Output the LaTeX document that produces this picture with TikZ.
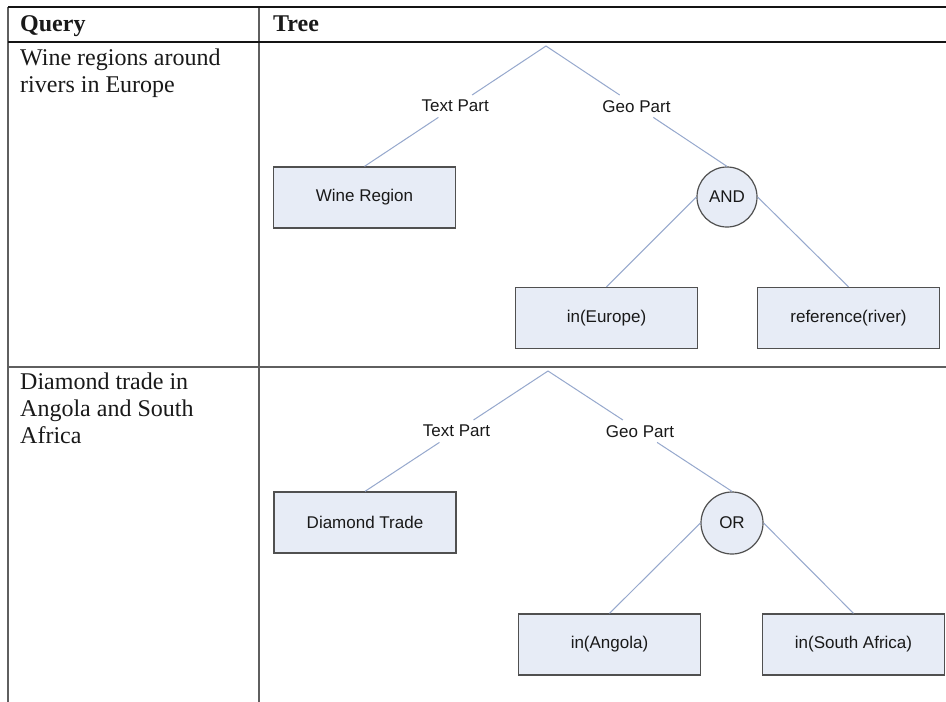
\documentclass[tikz,border=0pt]{standalone}
\usepackage{fontspec}
\setmainfont{Liberation Serif}
\newfontfamily\labelfont{Liberation Sans}
\usetikzlibrary{calc}
\definecolor{connc}{RGB}{150,168,205}
\definecolor{boxfill}{RGB}{231,236,246}
\definecolor{boxdraw}{RGB}{80,80,80}
\definecolor{rulec}{RGB}{20,20,20}
\definecolor{rulegray}{RGB}{95,95,95}
\definecolor{txt}{RGB}{25,25,25}
\begin{document}
\begin{tikzpicture}[x=1pt,y=-1pt,
  leaf/.style={draw=boxdraw, line width=1.3pt, fill=boxfill, minimum width=182pt, minimum height=61pt, inner sep=0pt, font=\labelfont\fontsize{17}{19}\selectfont, text=txt},
  opnode/.style={circle, draw=boxdraw, line width=1.2pt, fill=boxfill, inner sep=0pt, font=\labelfont\fontsize{17}{19}\selectfont, text=txt},
  edgelabel/.style={inner sep=0pt, minimum height=22pt, font=\labelfont\fontsize{17}{19}\selectfont, text=txt},
  connline/.style={draw=connc, line width=1pt},
  qtext/.style={anchor=base west, inner sep=0pt, font=\fontsize{24}{27}\selectfont, text=txt},
  htext/.style={anchor=base west, inner sep=0pt, font=\fontsize{24}{27}\selectfont\bfseries, text=txt},
  toprule/.style={draw=rulec, line width=1.5pt},
  midrule/.style={draw=rulegray, line width=1.8pt},
  vrule/.style={draw=rulegray, line width=1.5pt},
]
\useasboundingbox (0,0) rectangle (946,702);
\fill[white] (0,0) rectangle (946,702);

% table rules
\coordinate (tl) at (8,7);
\coordinate (tr) at (946,7);
\coordinate (hl) at (8,42);
\coordinate (hr) at (946,42);
\coordinate (ml) at (8,367);
\coordinate (mr) at (946,367);
\coordinate (bl) at (8,702);
\coordinate (ct) at (259,7);
\coordinate (cb) at (259,702);
\draw[vrule] (tl) -- (bl);
\draw[vrule] (ct) -- (cb);
\draw[toprule] (tl) -- (tr);
\draw[toprule] (hl) -- (hr);
\draw[midrule] (ml) -- (mr);

% header
\node[htext] (hq) at (20,31) {Query};
\node[htext] (ht) at (273,31) {Tree};

% queries
\node[qtext] (q1a) at (20,65) {Wine regions around};
\node[qtext] (q1b) at (20,92.5) {rivers in Europe};
\node[qtext] (q2a) at (20,389) {Diamond trade in};
\node[qtext] (q2b) at (20,416.5) {Angola and South};
\node[qtext] (q2c) at (20,443.5) {Africa};

% tree 1
\coordinate (r1) at (546,46);
\node[leaf] (wr) at (364.5,197.5) {Wine Region};
\node[opnode, minimum size=60pt] (and) at (727,197) {AND};
\node[leaf] (ine) at (606.5,318) {in(Europe)};
\node[leaf] (ref) at (848.5,318) {reference(river)};
\node[edgelabel] (tp1) at ($(r1)!0.5!(wr.north)$) {Text Part};
\node[edgelabel] (gp1) at ($(r1)!0.5!(and.north)$) {Geo Part};
\draw[connline] (r1) -- (tp1) -- (wr.north);
\draw[connline] (r1) -- (gp1) -- (and.north);
\draw[connline] (and.west) -- (ine.north);
\draw[connline] (and.east) -- (ref.north);

% tree 2
\coordinate (r2) at (548,371);
\node[leaf] (dt) at (365,522.5) {Diamond Trade};
\node[opnode, minimum size=62pt] (or) at (732,523) {OR};
\node[leaf] (ina) at (609.5,644.5) {in(Angola)};
\node[leaf] (insa) at (853.5,644.5) {in(South Africa)};
\node[edgelabel] (tp2) at ($(r2)!0.5!(dt.north)$) {Text Part};
\node[edgelabel] (gp2) at ($(r2)!0.5!(or.north)$) {Geo Part};
\draw[connline] (r2) -- (tp2) -- (dt.north);
\draw[connline] (r2) -- (gp2) -- (or.north);
\draw[connline] (or.west) -- (ina.north);
\draw[connline] (or.east) -- (insa.north);
\end{tikzpicture}
\end{document}
